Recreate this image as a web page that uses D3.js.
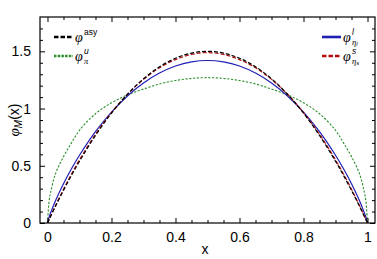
<!DOCTYPE html>
<html>
<head>
<meta charset="utf-8">
<script src="https://cdn.jsdelivr.net/npm/d3@7"></script>
<style>
  body { margin: 0; background: #fff; }
  text { font-family: "Liberation Sans", Arial, sans-serif; fill: #000; }
  .greek { font-family: "Liberation Serif", "DejaVu Serif", serif; font-style: italic; }
</style>
</head>
<body>
<svg id="chart" width="377" height="259"></svg>
<script>
// sample points along x
const xs = [0, 0.005, 0.01, 0.025, 0.05, 0.075, 0.1, 0.15, 0.2, 0.25, 0.3, 0.35, 0.4, 0.45, 0.5,
            0.55, 0.6, 0.65, 0.7, 0.75, 0.8, 0.85, 0.9, 0.925, 0.95, 0.975, 0.99, 0.995, 1];
const phiAsy = [0, 0.030, 0.059, 0.146, 0.285, 0.416, 0.54, 0.765, 0.96, 1.125, 1.26, 1.365, 1.44, 1.485, 1.5,
                1.485, 1.44, 1.365, 1.26, 1.125, 0.96, 0.765, 0.54, 0.416, 0.285, 0.146, 0.059, 0.030, 0];
const phiPiU = [0, 0.19, 0.27, 0.43, 0.58, 0.70, 0.81, 0.955, 1.05, 1.12, 1.17, 1.215, 1.245, 1.263, 1.27,
                1.263, 1.245, 1.215, 1.17, 1.12, 1.05, 0.955, 0.81, 0.70, 0.58, 0.43, 0.27, 0.19, 0];
const phiEtaL = [0, 0.050, 0.090, 0.194, 0.343, 0.474, 0.592, 0.798, 0.969, 1.110, 1.223, 1.310, 1.372, 1.408, 1.42,
                 1.408, 1.372, 1.310, 1.223, 1.110, 0.969, 0.798, 0.592, 0.474, 0.343, 0.194, 0.090, 0.050, 0];
const phiEtaS = [0, 0.031, 0.062, 0.152, 0.295, 0.428, 0.552, 0.775, 0.965, 1.125, 1.255, 1.356, 1.428, 1.473, 1.489,
                 1.473, 1.428, 1.356, 1.255, 1.125, 0.965, 0.775, 0.552, 0.428, 0.295, 0.152, 0.062, 0.031, 0];

const xTicks = [0, 0.2, 0.4, 0.6, 0.8, 1];
const xTickLabels = ["0", "0.2", "0.4", "0.6", "0.8", "1"];
const yTicks = [0, 0.5, 1, 1.5];
const yTickLabels = ["0", "0.5", "1", "1.5"];

const svg = d3.select("#chart");
const L = 40, R = 375, T = 17, B = 223;

const x = d3.scaleLinear().domain([-0.0234, 1.0234]).range([L, R]);
const y = d3.scaleLinear().domain([0, 1.8]).range([B, T]);

// curves
const series = [
  {vals: phiPiU, color: "#2a8f2a", w: 1.1, dash: "2.2,1.6"},
  {vals: phiEtaL, color: "#1f1fb4", w: 1.2, dash: null},
  {vals: phiEtaS, color: "#b40d0d", w: 1.2, dash: "4,2"},
  {vals: phiAsy, color: "#000", w: 1.2, dash: "4,2"}
];
const line = d3.line().x(d => x(d[0])).y(d => y(d[1])).curve(d3.curveCatmullRom.alpha(0.5));
const plot = svg.append("g");
plot.append("clipPath").attr("id", "clip").append("rect")
    .attr("x", L).attr("y", T).attr("width", R - L).attr("height", B - T);
series.forEach(s => {
  plot.append("path").attr("clip-path", "url(#clip)")
      .attr("d", line(xs.map((v, i) => [v, s.vals[i]])))
      .attr("fill", "none").attr("stroke", s.color).attr("stroke-width", s.w)
      .attr("stroke-dasharray", s.dash);
});

// frame with inward ticks on all sides
svg.append("rect").attr("x", L).attr("y", T).attr("width", R - L).attr("height", B - T)
    .attr("fill", "none").attr("stroke", "#000").attr("stroke-width", 1.2);

const xMinor = d3.range(0, 1.0001, 0.05).filter(v => !xTicks.some(t => Math.abs(t - v) < 1e-6));
const yMinor = d3.range(0, 1.75, 0.1).filter(v => !yTicks.some(t => Math.abs(t - v) < 1e-6));

const axB = d3.axisBottom(x).tickValues(xTicks).tickFormat((d, i) => xTickLabels[i])
    .tickSizeInner(-5).tickSizeOuter(0).tickPadding(9);
svg.append("g").attr("transform", `translate(0,${B})`).call(axB);
const axT = d3.axisTop(x).tickValues(xTicks).tickFormat("").tickSizeInner(-5).tickSizeOuter(0);
svg.append("g").attr("transform", `translate(0,${T})`).call(axT);
const axL = d3.axisLeft(y).tickValues(yTicks).tickFormat((d, i) => yTickLabels[i])
    .tickSizeInner(-5).tickSizeOuter(0).tickPadding(9);
svg.append("g").attr("transform", `translate(${L},0)`).call(axL);
const axR = d3.axisRight(y).tickValues(yTicks).tickFormat("").tickSizeInner(-5).tickSizeOuter(0);
svg.append("g").attr("transform", `translate(${R},0)`).call(axR);

svg.append("g").attr("transform", `translate(0,${B})`)
    .call(d3.axisBottom(x).tickValues(xMinor).tickFormat("").tickSizeInner(-3).tickSizeOuter(0));
svg.append("g").attr("transform", `translate(0,${T})`)
    .call(d3.axisTop(x).tickValues(xMinor).tickFormat("").tickSizeInner(-3).tickSizeOuter(0));
svg.append("g").attr("transform", `translate(${L},0)`)
    .call(d3.axisLeft(y).tickValues(yMinor).tickFormat("").tickSizeInner(-3).tickSizeOuter(0));
svg.append("g").attr("transform", `translate(${R},0)`)
    .call(d3.axisRight(y).tickValues(yMinor).tickFormat("").tickSizeInner(-3).tickSizeOuter(0));

svg.selectAll(".domain").remove();
svg.selectAll(".tick line").attr("stroke", "#000").attr("stroke-width", 1);
svg.selectAll(".tick text").style("font-family", "'Liberation Sans', Arial, sans-serif")
    .style("font-size", "14px").attr("fill", "#000");

// axis titles
svg.append("text").attr("x", 205).attr("y", 254).attr("text-anchor", "middle")
    .style("font-size", "14px").text("x");
const yl = svg.append("text").attr("transform", "translate(19,120) rotate(-90)")
    .attr("text-anchor", "middle").style("font-size", "14px");
yl.append("tspan").attr("class", "greek").style("font-size", "15px").text("φ");
yl.append("tspan").attr("dy", 3).style("font-size", "10px").style("font-style", "italic").text("M");
yl.append("tspan").attr("dy", -3).text("(x)");

// legends: one text element per entry, sup and sub stacked after the phi
function legendItem(lx, ly, s, sup, sub, supItalic) {
  svg.append("line").attr("x1", lx).attr("x2", lx + 19).attr("y1", ly).attr("y2", ly)
      .attr("stroke", s.color).attr("stroke-width", 2.6)
      .attr("stroke-dasharray", s.dash ? (s.dash === "4,2" ? "4.5,2" : "2.5,1.2") : null);
  const t = svg.append("text").attr("x", lx + 21).attr("y", ly + 5);
  t.append("tspan").attr("class", "greek").style("font-size", "14px").text("φ");
  const sp = t.append("tspan").attr("x", lx + 30).attr("dy", -7).style("font-size", "8.5px").text(sup);
  if (supItalic) sp.style("font-style", "italic");
  if (sub) {
    t.append("tspan").attr("class", "greek").attr("x", lx + 30).attr("dy", 9.5).style("font-size", "8.5px").text(sub[0]);
    if (sub[1]) t.append("tspan").attr("dy", 1).style("font-size", "6px").style("font-style", "italic").text(sub[1]);
  }
}
legendItem(54, 37, series[3], "asy", null, false);
legendItem(54, 56, series[0], "u", ["π", null], true);
legendItem(322, 37, series[1], "l", ["η", "l"], true);
legendItem(322, 56, series[2], "s", ["η", "s"], true);
</script>
</body>
</html>
